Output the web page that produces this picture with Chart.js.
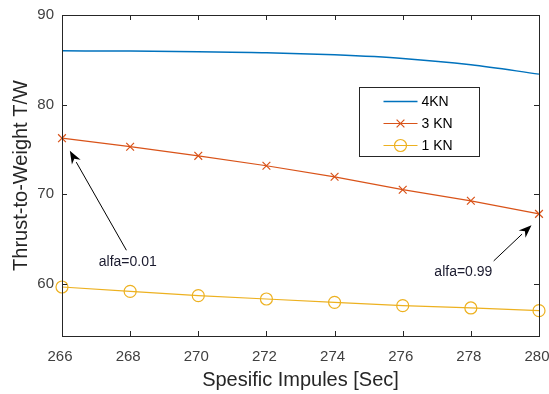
<!DOCTYPE html>
<html>
<head>
<meta charset="utf-8">
<script src="https://cdn.jsdelivr.net/npm/chart.js@4.4.1/dist/chart.umd.min.js"></script>
<style>
  html, body { margin: 0; padding: 0; background: #fff; }
  #wrap { width: 549px; height: 394px; }
</style>
</head>
<body>
<div id="wrap"><canvas id="chart"></canvas></div>
<script>
// data
const isp = [266, 268, 270, 272, 274, 276, 278, 280];
const tw4kn = [86.0, 85.97, 85.9, 85.8, 85.55, 85.15, 84.45, 83.4];
const tw3kn = [76.25, 75.3, 74.28, 73.17, 71.94, 70.5, 69.26, 67.8];
const tw1kn = [59.64, 59.15, 58.67, 58.3, 57.93, 57.56, 57.3, 57.0];
const seriesNames = ['4KN', '3 KN', '1 KN'];
const xTicks = [266, 268, 270, 272, 274, 276, 278, 280];
const yTicks = [60, 70, 80, 90];

// text arrows, in data units
const notes = [
  { text: 'alfa=0.01', at: [267.93, 62.44], from: [267.89, 63.74], to: [266.23, 74.84] },
  { text: 'alfa=0.99', at: [277.78, 61.32], from: [278.67, 62.55], to: [279.78, 66.54] }
];

const FONT = "'Liberation Sans', Arial, Helvetica, sans-serif";
const AXIS = '#262626';

const pts = vals => isp.map((x, i) => ({ x: x, y: vals[i] }));

// box + inward ticks like matlab
const framePlugin = {
  id: 'frame',
  afterDatasetsDraw(chart) {
    const { ctx, chartArea: a, scales } = chart;
    ctx.save();
    ctx.strokeStyle = AXIS;
    ctx.lineWidth = 1;
    ctx.strokeRect(Math.round(a.left) + 0.5, Math.round(a.top) + 0.5,
      Math.round(a.right - a.left), Math.round(a.bottom - a.top));
    ctx.beginPath();
    xTicks.forEach(v => {
      const x = Math.round(scales.x.getPixelForValue(v)) + 0.5;
      ctx.moveTo(x, a.bottom); ctx.lineTo(x, a.bottom - 5);
      ctx.moveTo(x, a.top); ctx.lineTo(x, a.top + 5);
    });
    yTicks.forEach(v => {
      const y = Math.round(scales.y.getPixelForValue(v)) + 0.5;
      ctx.moveTo(a.left, y); ctx.lineTo(a.left + 5, y);
      ctx.moveTo(a.right, y); ctx.lineTo(a.right - 5, y);
    });
    ctx.stroke();
    ctx.restore();
  }
};

const arrowPlugin = {
  id: 'arrows',
  afterDatasetsDraw(chart) {
    const { ctx, scales } = chart;
    ctx.save();
    notes.forEach(n => {
      const x0 = scales.x.getPixelForValue(n.from[0]), y0 = scales.y.getPixelForValue(n.from[1]);
      const x1 = scales.x.getPixelForValue(n.to[0]), y1 = scales.y.getPixelForValue(n.to[1]);
      const ang = Math.atan2(y1 - y0, x1 - x0);
      const len = 13, half = 5;
      const bx = x1 - len * Math.cos(ang), by = y1 - len * Math.sin(ang);
      ctx.strokeStyle = '#000';
      ctx.lineWidth = 1;
      ctx.beginPath();
      ctx.moveTo(x0, y0); ctx.lineTo(bx, by);
      ctx.stroke();
      ctx.fillStyle = '#000';
      ctx.beginPath();
      ctx.moveTo(x1, y1);
      ctx.lineTo(bx - half * Math.sin(ang), by + half * Math.cos(ang));
      ctx.lineTo(x1 - (len - 4) * Math.cos(ang), y1 - (len - 4) * Math.sin(ang));
      ctx.lineTo(bx + half * Math.sin(ang), by - half * Math.cos(ang));
      ctx.closePath();
      ctx.fill();

      ctx.fillStyle = '#1a1a2e';
      ctx.font = '14px ' + FONT;
      ctx.textAlign = 'center';
      ctx.textBaseline = 'middle';
      ctx.fillText(n.text, scales.x.getPixelForValue(n.at[0]), scales.y.getPixelForValue(n.at[1]));
    });
    ctx.restore();
  }
};

// legend box inside the axes, upper right
const legendPlugin = {
  id: 'boxLegend',
  afterDraw(chart) {
    const { ctx, chartArea: a } = chart;
    const left = Math.round(a.left + 297) + 0.5, top = Math.round(a.top + 72) + 0.5;
    const w = 120, h = 69;
    ctx.save();
    ctx.fillStyle = '#fff';
    ctx.fillRect(left, top, w, h);
    ctx.strokeStyle = AXIS;
    ctx.lineWidth = 1;
    ctx.strokeRect(left, top, w, h);
    chart.data.datasets.forEach((ds, i) => {
      const y = top + 14 + i * 22;
      const lx0 = left + 24, lx1 = left + 58;
      ctx.strokeStyle = ds.borderColor;
      ctx.lineWidth = ds.borderWidth;
      ctx.beginPath(); ctx.moveTo(lx0, y); ctx.lineTo(lx1, y); ctx.stroke();
      if (ds.pointRadius > 0) {
        ctx.fillStyle = 'rgba(0,0,0,0)';
        ctx.lineWidth = ds.pointBorderWidth;
        Chart.helpers.drawPoint(ctx, {
          pointStyle: ds.pointStyle, radius: ds.pointRadius, borderWidth: ds.pointBorderWidth
        }, (lx0 + lx1) / 2, y);
      }
      ctx.fillStyle = '#000';
      ctx.font = '14px ' + FONT;
      ctx.textAlign = 'left';
      ctx.textBaseline = 'middle';
      ctx.fillText(ds.label, left + 62, y + 1);
    });
    ctx.restore();
  }
};

new Chart(document.getElementById('chart'), {
  type: 'line',
  data: {
    datasets: [
      {
        label: seriesNames[0],
        data: pts(tw4kn),
        borderColor: '#0072BD',
        borderWidth: 1.5,
        pointRadius: 0,
        cubicInterpolationMode: 'monotone',
        clip: false
      },
      {
        label: seriesNames[1],
        data: pts(tw3kn),
        borderColor: '#D95319',
        backgroundColor: 'transparent',
        borderWidth: 1.2,
        pointStyle: 'crossRot',
        pointRadius: 5.5,
        pointBorderWidth: 1.2,
        clip: false
      },
      {
        label: seriesNames[2],
        data: pts(tw1kn),
        borderColor: '#EDB120',
        backgroundColor: 'transparent',
        borderWidth: 1.2,
        pointStyle: 'circle',
        pointRadius: 6,
        pointBorderWidth: 1.2,
        clip: false
      }
    ]
  },
  options: {
    responsive: true,
    maintainAspectRatio: false,
    animation: false,
    layout: { padding: { left: 0, right: 10, top: 15, bottom: 0 } },
    plugins: {
      legend: { display: false },
      tooltip: { enabled: false }
    },
    scales: {
      x: {
        type: 'linear',
        min: 266,
        max: 280,
        afterBuildTicks: s => { s.ticks = xTicks.map(v => ({ value: v })); },
        afterFit: s => { s.height = 58; s.paddingLeft = 0; s.paddingRight = 0; },
        grid: { display: false, drawTicks: false },
        border: { display: false },
        ticks: { color: '#404040', font: { family: FONT, size: 15 }, padding: 12, maxRotation: 0, labelOffset: -2 },
        title: {
          display: true,
          text: 'Spesific Impules [Sec]',
          color: '#262626',
          font: { family: FONT, size: 20 },
          padding: { top: 0, bottom: 2 }
        }
      },
      y: {
        min: 54.17,
        max: 90,
        afterBuildTicks: s => { s.ticks = yTicks.map(v => ({ value: v })); },
        afterFit: s => { s.width = 62; s.paddingTop = 0; s.paddingBottom = 0; },
        grid: { display: false, drawTicks: false },
        border: { display: false },
        ticks: { color: '#404040', font: { family: FONT, size: 15 }, padding: 8 },
        title: {
          display: true,
          text: 'Thrust-to-Weight T/W',
          color: '#262626',
          font: { family: FONT, size: 20 },
          padding: { top: 9, bottom: 0 }
        }
      }
    }
  },
  plugins: [framePlugin, arrowPlugin, legendPlugin]
});
</script>
</body>
</html>
